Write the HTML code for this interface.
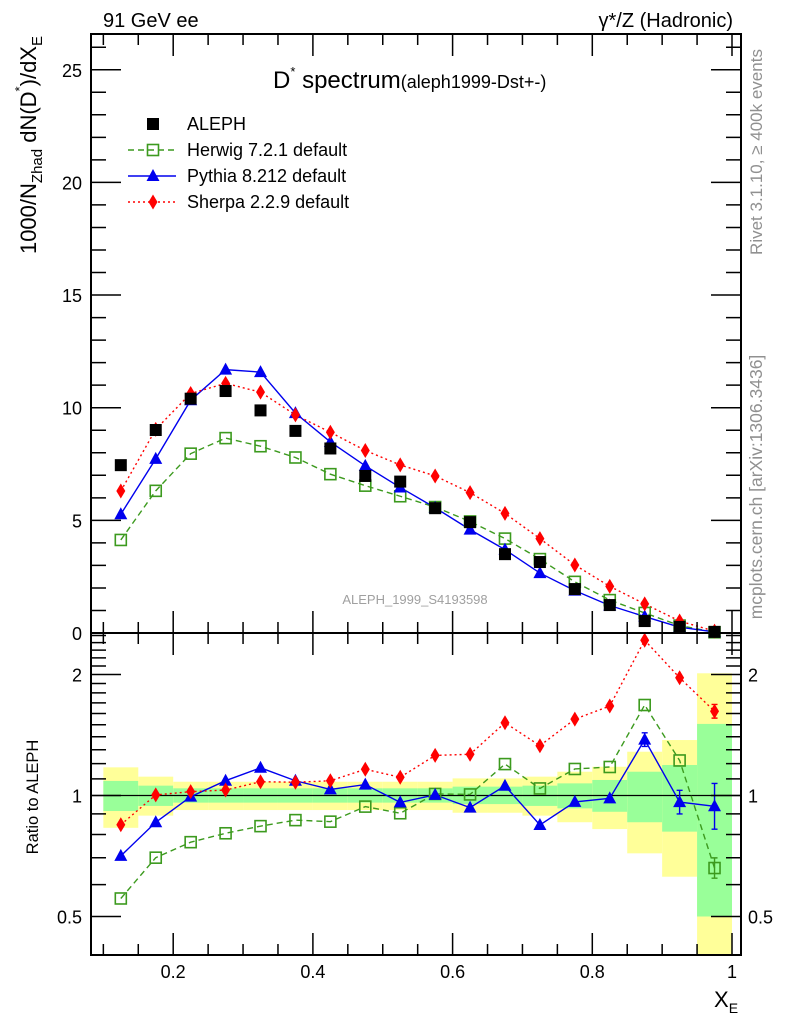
<!DOCTYPE html>
<html><head><meta charset="utf-8">
<style>
body{margin:0;background:#fff;}
svg{display:block;font-family:"Liberation Sans",sans-serif;}
</style></head>
<body>
<svg id="chart" width="786" height="1024" viewBox="0 0 786 1024" xmlns="http://www.w3.org/2000/svg">
<g id="bands"></g>
<g id="marks"></g>
<g id="axes"></g>
<g id="labels">
<text x="103" y="27" font-size="20">91 GeV ee</text>
<text x="733" y="27" font-size="20" text-anchor="end">γ*/Z (Hadronic)</text>
<text x="273" y="88" font-size="24">D<tspan dy="-12" font-size="13">*</tspan><tspan dy="12"> spectrum</tspan><tspan font-size="18">(aleph1999-Dst+-)</tspan></text>
<text x="415" y="604" font-size="13" fill="#a0a0a0" text-anchor="middle">ALEPH_1999_S4193598</text>
<text transform="translate(762,152) rotate(-90)" font-size="17" fill="#909090" text-anchor="middle">Rivet 3.1.10, ≥ 400k events</text>
<text transform="translate(762,487) rotate(-90)" font-size="17.5" fill="#909090" text-anchor="middle">mcplots.cern.ch [arXiv:1306.3436]</text>
<text transform="translate(36,36) rotate(-90)" font-size="22" text-anchor="end">1000/N<tspan dy="6" font-size="15">Zhad</tspan><tspan dy="-6"> dN(D</tspan><tspan dy="-12" font-size="13">*</tspan><tspan dy="12">)/dX</tspan><tspan dy="6" font-size="15">E</tspan></text>
<text transform="translate(38,797) rotate(-90)" font-size="16.5" text-anchor="middle">Ratio to ALEPH</text>
<text x="714" y="1007" font-size="22">X<tspan dy="6" font-size="14">E</tspan></text>
</g>
<g id="legend"></g>
</svg>
<script>
const centers=[0.125,0.175,0.225,0.275,0.325,0.375,0.425,0.475,0.525,0.575,0.625,0.675,0.725,0.775,0.825,0.875,0.925,0.975];
const aleph=[7.45,9.01,10.4,10.74,9.88,8.97,8.19,6.97,6.72,5.54,4.92,3.5,3.15,1.95,1.24,0.53,0.27,0.05];
const herwig=[4.13,6.31,7.96,8.65,8.29,7.79,7.05,6.54,6.07,5.59,4.95,4.19,3.28,2.27,1.46,0.89,0.33,0.033];
const pythia=[5.27,7.73,10.33,11.69,11.58,9.76,8.48,7.42,6.46,5.56,4.59,3.70,2.66,1.88,1.22,0.73,0.26,0.047];
const sherpa=[6.30,9.04,10.63,11.08,10.69,9.68,8.91,8.10,7.46,6.97,6.23,5.31,4.19,3.02,2.07,1.29,0.53,0.081];
const yellowHi=[1.175,1.114,1.082,1.082,1.082,1.082,1.082,1.082,1.082,1.082,1.103,1.114,1.146,1.179,1.285,1.374,2.014,2.014];
const yellowLo=[0.831,0.891,0.920,0.920,0.920,0.920,0.920,0.920,0.920,0.920,0.906,0.891,0.858,0.825,0.718,0.628,0.30,0.30];
const greenHi=[1.087,1.058,1.042,1.042,1.042,1.042,1.042,1.042,1.042,1.042,1.052,1.058,1.072,1.093,1.146,1.191,1.507,1.507];
const greenLo=[0.915,0.942,0.960,0.960,0.960,0.960,0.960,0.960,0.960,0.960,0.952,0.942,0.929,0.911,0.858,0.813,0.50,0.50];
yellowHi[16]=1.374;yellowLo[16]=0.628;greenHi[16]=1.191;greenLo[16]=0.813;
yellowHi[15]=1.285;yellowLo[15]=0.718;greenHi[15]=1.146;greenLo[15]=0.858;
yellowHi[14]=1.179;yellowLo[14]=0.825;greenHi[14]=1.093;greenLo[14]=0.911;
yellowHi[13]=1.146;yellowLo[13]=0.858;greenHi[13]=1.072;greenLo[13]=0.929;
yellowHi[12]=1.114;yellowLo[12]=0.891;greenHi[12]=1.058;greenLo[12]=0.942;
yellowHi[11]=1.103;yellowLo[11]=0.906;greenHi[11]=1.052;greenLo[11]=0.952;
const pythiaErr=[0,0,0,0,0,0,0,0,0,0,0,0,0,0,0,0.04,0.07,0.14];
const herwigErr=[0,0,0,0,0,0,0,0,0,0,0,0,0,0,0,0,0,0.06];
const sherpaErr=[0,0,0,0,0,0,0,0,0,0,0,0,0,0,0,0,0,0.04];
const xTickLabels=[0.2,0.4,0.6,0.8,1];
const yTickLabels=[0,5,10,15,20,25];
const rTickLabels=[0.5,1,2];

const NS='http://www.w3.org/2000/svg';
const L=91,R=741,T=34,MB=633,RB=955;
const xs=v=>33.5+698.5*v;
const ys=v=>633-22.53*v;
const rs=v=>795.5-121*Math.log2(v);
function mk(tag,attrs,parent){const e=document.createElementNS(NS,tag);for(const k in attrs)e.setAttribute(k,attrs[k]);parent.appendChild(e);return e;}
const bands=document.getElementById('bands'),marks=document.getElementById('marks'),axes=document.getElementById('axes'),legend=document.getElementById('legend');

centers.forEach((c,i)=>{
  const x0=xs(c-0.025),x1=Math.min(xs(c+0.025),R);
  const yt=Math.max(rs(yellowHi[i]),MB),yb=Math.min(rs(yellowLo[i]),RB);
  const y=mk('rect',{x:x0,y:yt,width:x1-x0,height:yb-yt,fill:'#ffff99'},bands);
  
  
  const gt=Math.max(rs(greenHi[i]),MB),gb=Math.min(rs(greenLo[i]),RB);
  const g=mk('rect',{x:x0,y:gt,width:x1-x0,height:gb-gt,fill:'#99ff99'},bands);
  
  
});
const one=mk('line',{x1:L,x2:R,y1:rs(1),y2:rs(1),stroke:'#000','stroke-width':1.3},bands);



function marker(type,x,y,color,parent){
  let e;
  if(type==='sq') e=mk('rect',{x:x-6,y:y-6,width:12,height:12,fill:'#000'},parent);
  else if(type==='osq') e=mk('rect',{x:x-5.5,y:y-5.5,width:11,height:11,fill:'none',stroke:color,'stroke-width':1.6},parent);
  else if(type==='tri') e=mk('polygon',{points:`${x},${y-7} ${x-6.5},${y+5} ${x+6.5},${y+5}`,fill:color},parent);
  else e=mk('polygon',{points:`${x},${y-7.5} ${x-4.5},${y} ${x},${y+7.5} ${x+4.5},${y}`,fill:color},parent);
  return e;
}
const series=[
 {name:'herwig',vals:herwig,color:'#3c9a1e',dash:'6,4',type:'osq',err:herwigErr},
 {name:'pythia',vals:pythia,color:'#0000ee',dash:'',type:'tri',err:pythiaErr},
 {name:'sherpa',vals:sherpa,color:'#ff0000',dash:'2,3',type:'dia',err:sherpaErr}
];
series.forEach(s=>{
  const pts=centers.map((c,i)=>xs(c)+','+ys(s.vals[i])).join(' ');
  const l=mk('polyline',{points:pts,fill:'none',stroke:s.color,'stroke-width':1.4,'stroke-dasharray':s.dash},marks);
  
  
  const rp=centers.map((c,i)=>xs(c)+','+rs(s.vals[i]/aleph[i])).join(' ');
  const rl=mk('polyline',{points:rp,fill:'none',stroke:s.color,'stroke-width':1.4,'stroke-dasharray':s.dash},marks);
  
  
});
series.forEach(s=>{
  centers.forEach((c,i)=>{
    const m=marker(s.type,xs(c),ys(s.vals[i]),s.color,marks);
    
    
    const r=s.vals[i]/aleph[i];
    if(s.err[i]>0){
      const ya=rs(r*(1+s.err[i])),yb=rs(r/(1+s.err[i]));
      const eb=mk('path',{d:`M${xs(c)},${ya}V${yb}M${xs(c)-3},${ya}h6M${xs(c)-3},${yb}h6`,stroke:s.color,'stroke-width':1.4,fill:'none'},marks);
      
      
    }
    const rm=marker(s.type,xs(c),rs(r),s.color,marks);
    
    
  });
});
centers.forEach((c,i)=>{
  const m=marker('sq',xs(c),ys(aleph[i]),'#000',marks);
  
  
});

const f1=mk('rect',{x:L,y:T,width:R-L,height:MB-T,fill:'none',stroke:'#000','stroke-width':2},axes);


const f2=mk('rect',{x:L,y:MB,width:R-L,height:RB-MB,fill:'none',stroke:'#000','stroke-width':2},axes);


let d='';
for(let k=2;k<=20;k++){const v=k*0.05;const x=xs(v);if(x<L||x>R)continue;const major=(k%4===0);const len=major?22:11;
  d+=`M${x},${T}v${len}M${x},${MB}v${-len}M${x},${MB}v${len}M${x},${RB}v${-len}`;}
for(let v=0;v<=26;v++){const y=ys(v);if(y<T)continue;const len=(v%5===0)?30:15;d+=`M${L},${y}h${len}M${R},${y}h${-len}`;}
for(let v=0.4;v<=2.51;v+=0.1){const y=rs(v);if(y<MB||y>RB)continue;const mj=[0.5,1,2].some(t=>Math.abs(t-v)<1e-6);const len=mj?30:15;d+=`M${L},${y}h${len}M${R},${y}h${-len}`;}
const tk=mk('path',{d:d,stroke:'#000','stroke-width':1.5,fill:'none'},axes);


xTickLabels.forEach(v=>{const t=mk('text',{x:xs(v),y:978,'font-size':18,'text-anchor':'middle'},axes);t.textContent=String(v);
  });
yTickLabels.forEach(v=>{const t=mk('text',{x:82,y:ys(v)+7,'font-size':18,'text-anchor':'end'},axes);t.textContent=String(v);
  });
rTickLabels.forEach(v=>{[82,748].forEach((x,j)=>{const t=mk('text',{x:x,y:rs(v)+7,'font-size':18,'text-anchor':j?'start':'end'},axes);t.textContent=String(v);
  });});

const leg=[{n:'ALEPH',t:'sq',c:'#000',dash:null},{n:'Herwig 7.2.1 default',t:'osq',c:'#3c9a1e',dash:'6,4'},{n:'Pythia 8.212 default',t:'tri',c:'#0000ee',dash:''},{n:'Sherpa 2.2.9 default',t:'dia',c:'#ff0000',dash:'2,3'}];
leg.forEach((e,i)=>{const y=124+i*26;
  const g=mk('g',{},legend);
  
  
  if(e.dash!==null) mk('line',{x1:128,x2:176,y1:y,y2:y,stroke:e.c,'stroke-width':1.4,'stroke-dasharray':e.dash},g);
  marker(e.t,153,y,e.c,g);
  const t=mk('text',{x:187,y:y+6,'font-size':18},g);t.textContent=e.n;});
</script>
</body></html>
